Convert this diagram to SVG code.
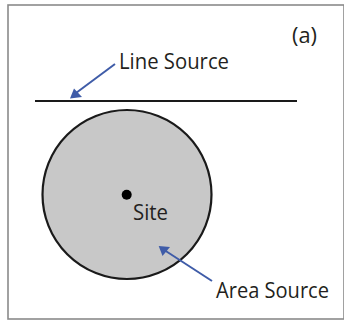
<svg xmlns="http://www.w3.org/2000/svg" width="344" height="321" viewBox="0 0 344 321">
<style>
text{font-family:"Open Sans","Noto Sans","Liberation Sans",sans-serif;font-size:21.500px;fill:#231f20}
.arrow{stroke:#3f5ca8;stroke-width:2;fill:none}
.head{fill:#3f5ca8}
.src{stroke:#1a1a1a;stroke-width:2.200}
</style>
<rect width="344" height="321" fill="#fff"/>
<rect x="8" y="5" width="336" height="314" fill="#fff" stroke="#8a8a8a" stroke-width="1.600"/>
<g id="area-source">
<circle cx="127" cy="194.500" r="84.500" fill="#c8c8c8" class="src"/>
<text x="216" y="298" textLength="113" lengthAdjust="spacingAndGlyphs">Area Source</text>
</g>
<g id="line-source">
<line x1="35" y1="101" x2="297" y2="101" class="src"/>
<text x="119" y="69" textLength="110" lengthAdjust="spacingAndGlyphs">Line Source</text>
</g>
<g id="site">
<circle cx="126.700" cy="194.700" r="5" fill="#000"/>
<text x="133" y="220" textLength="35" lengthAdjust="spacingAndGlyphs">Site</text>
</g>
<text id="panel-label" x="292" y="43" textLength="25" lengthAdjust="spacingAndGlyphs">(a)</text>
<g id="connectors">
<line x1="115" y1="64" x2="76" y2="93" class="arrow"/>
<polygon points="70,98.500 74,88.500 82,97" class="head"/>
<line x1="212" y1="281" x2="165" y2="250.500" class="arrow"/>
<polygon points="158.700,246 170,247 162.500,256" class="head"/>
</g>
</svg>
